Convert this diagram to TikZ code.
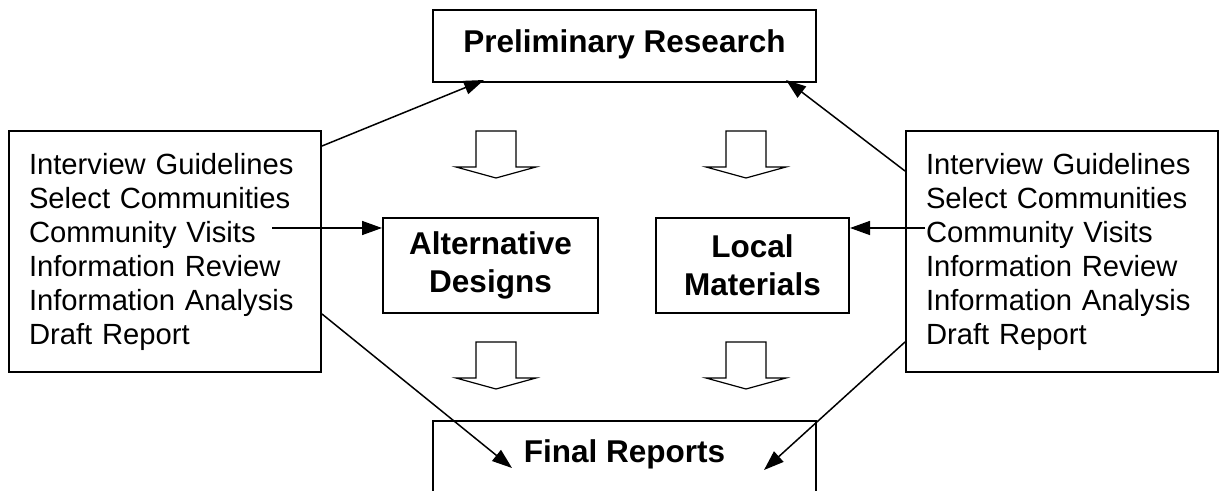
\documentclass[tikz,border=0pt]{standalone}
\usepackage{fontspec}
\setmainfont{Liberation Sans}
\usetikzlibrary{arrows.meta}

\tikzset{
	stage/.style={draw, line width=1pt, align=center, font=\fontsize{15.75pt}{19pt}\selectfont\bfseries},
	tasks/.style={draw, line width=1pt, align=left, text width=136pt, inner xsep=10pt, minimum height=120.5pt, font=\fontsize{14.6pt}{17pt}\selectfont},
	flow/.pic={\draw[line width=0.6pt] (-20,0) -- (20,0) -- (20,36) -- (40,36) -- (0,47) -- (-40,36) -- (-20,36) -- cycle;}
}

\begin{document}
\begin{tikzpicture}[x=0.5pt, y=-0.5pt, >={Triangle[length=10pt,width=7pt]}]
	\useasboundingbox (0,0) rectangle (1219,491);

	\node[stage, minimum width=191.5pt, minimum height=36pt, text height=11.5pt, text depth=5.3pt] (prelim) at (624.5,46) {Preliminary Research};
	\node[stage, minimum width=107.5pt, minimum height=47.5pt] (alt) at (490.5,265.5) {Alternative\\Designs};
	\node[stage, minimum width=96.5pt, minimum height=47.5pt] (local) at (752.5,265.5) {Local\\Materials};
	\node[stage, anchor=north, minimum width=191.5pt, minimum height=60pt, text height=11.5pt, text depth=30.3pt] (final) at (624.5,420) {Final Reports};

	\node[tasks] (left) at (165,251.5) {Interview Guidelines\\Select Communities\\Community Visits\\Information Review\\Information Analysis\\Draft Report};
	\node[tasks] (right) at (1062,251.5) {Interview Guidelines\\Select Communities\\Community Visits\\Information Review\\Information Analysis\\Draft Report};

	\coordinate (cv-l) at (272,228);
	\coordinate (cv-r) at (925,228);
	\coordinate (pre-l) at (484,80);
	\coordinate (pre-r) at (786,80);
	\coordinate (fin-l) at (512,468);
	\coordinate (fin-r) at (764,470);

	\foreach \x in {496,746}
		\foreach \y in {131,342}
			\pic at (\x,\y) {flow};

	\path [->, line width=0.75pt]
		([yshift=-8pt]left.north east) edge (pre-l)
		([yshift=-20.5pt]right.north west) edge (pre-r)
		(cv-l) edge (cv-l -| alt.west)
		(cv-r) edge (cv-r -| local.east)
		([yshift=-92pt]left.north east) edge (fin-l)
		([yshift=-106pt]right.north west) edge (fin-r)
		;
\end{tikzpicture}
\end{document}
